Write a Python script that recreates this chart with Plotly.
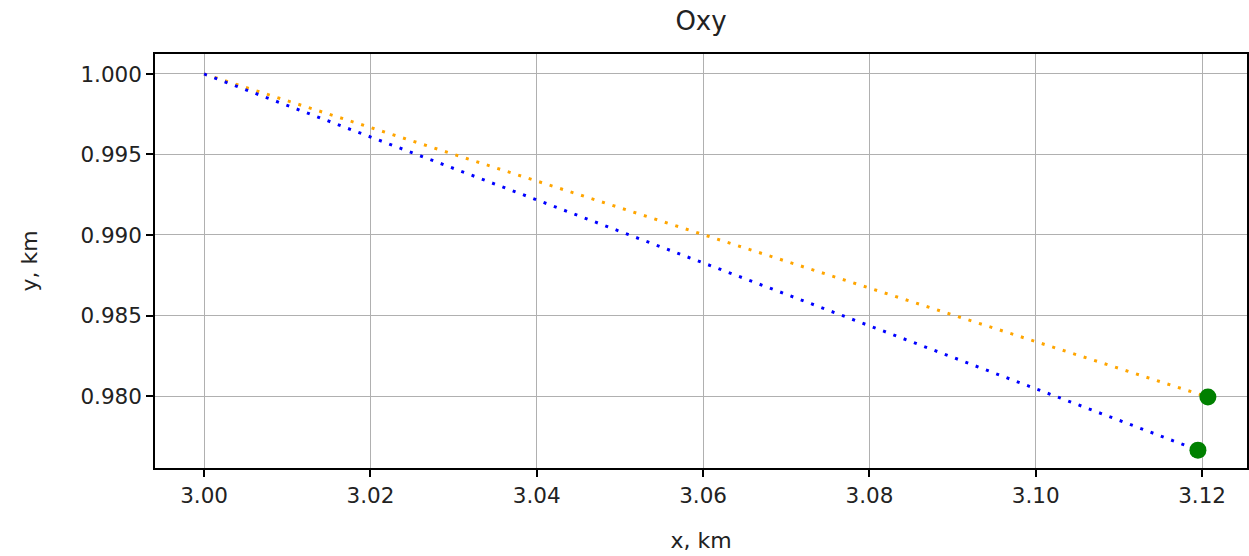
import plotly.graph_objects as go

# Trajectory data (km)
orange_x = [3.0, 3.1207]
orange_y = [1.0, 0.97994]
blue_x = [3.0, 3.1195]
blue_y = [1.0, 0.97664]
end_x = [3.1207, 3.1195]
end_y = [0.97994, 0.97664]

x_ticks = [3.00, 3.02, 3.04, 3.06, 3.08, 3.10, 3.12]
y_ticks = [0.980, 0.985, 0.990, 0.995, 1.000]

fig = go.Figure()
fig.add_trace(go.Scatter(x=orange_x, y=orange_y, mode="lines",
                         line=dict(color="orange", width=3, dash="3px,8px")))
fig.add_trace(go.Scatter(x=blue_x, y=blue_y, mode="lines",
                         line=dict(color="blue", width=3, dash="3px,8px")))
fig.add_trace(go.Scatter(x=end_x, y=end_y, mode="markers",
                         marker=dict(color="green", size=17)))

axis_common = dict(showline=True, linecolor="black", linewidth=1.5, mirror=True,
                   showgrid=True, gridcolor="#b0b0b0", gridwidth=1.2,
                   ticks="outside", ticklen=7, tickcolor="black", tickwidth=1.5,
                   zeroline=False, automargin=False,
                   tickfont=dict(size=21.5, color="#222"),
                   title_font=dict(size=22, color="#222"))

fig.update_layout(
    width=1249, height=556,
    template="none",
    showlegend=False,
    paper_bgcolor="white", plot_bgcolor="white",
    font=dict(family="DejaVu Sans", color="#222"),
    margin=dict(l=155, r=2, t=54, b=88, autoexpand=False),
    title=dict(text="Oxy", x=0.5, xanchor="center", y=0.978, yanchor="top",
               xref="paper", font=dict(size=26, color="#222")),
    xaxis=dict(range=[2.9941, 3.1254], tickvals=x_ticks,
               ticktext=[f"{v:.2f}" for v in x_ticks],
               title=dict(text="x, km", standoff=26), **axis_common),
    yaxis=dict(range=[0.97553, 1.00124], tickvals=y_ticks,
               ticktext=[f"{v:.3f}" for v in y_ticks],
               title=dict(text="y, km", standoff=37), **axis_common),
)

fig.write_html("out.html", config={"displayModeBar": False},
               post_script="document.body.style.margin='0px';")
